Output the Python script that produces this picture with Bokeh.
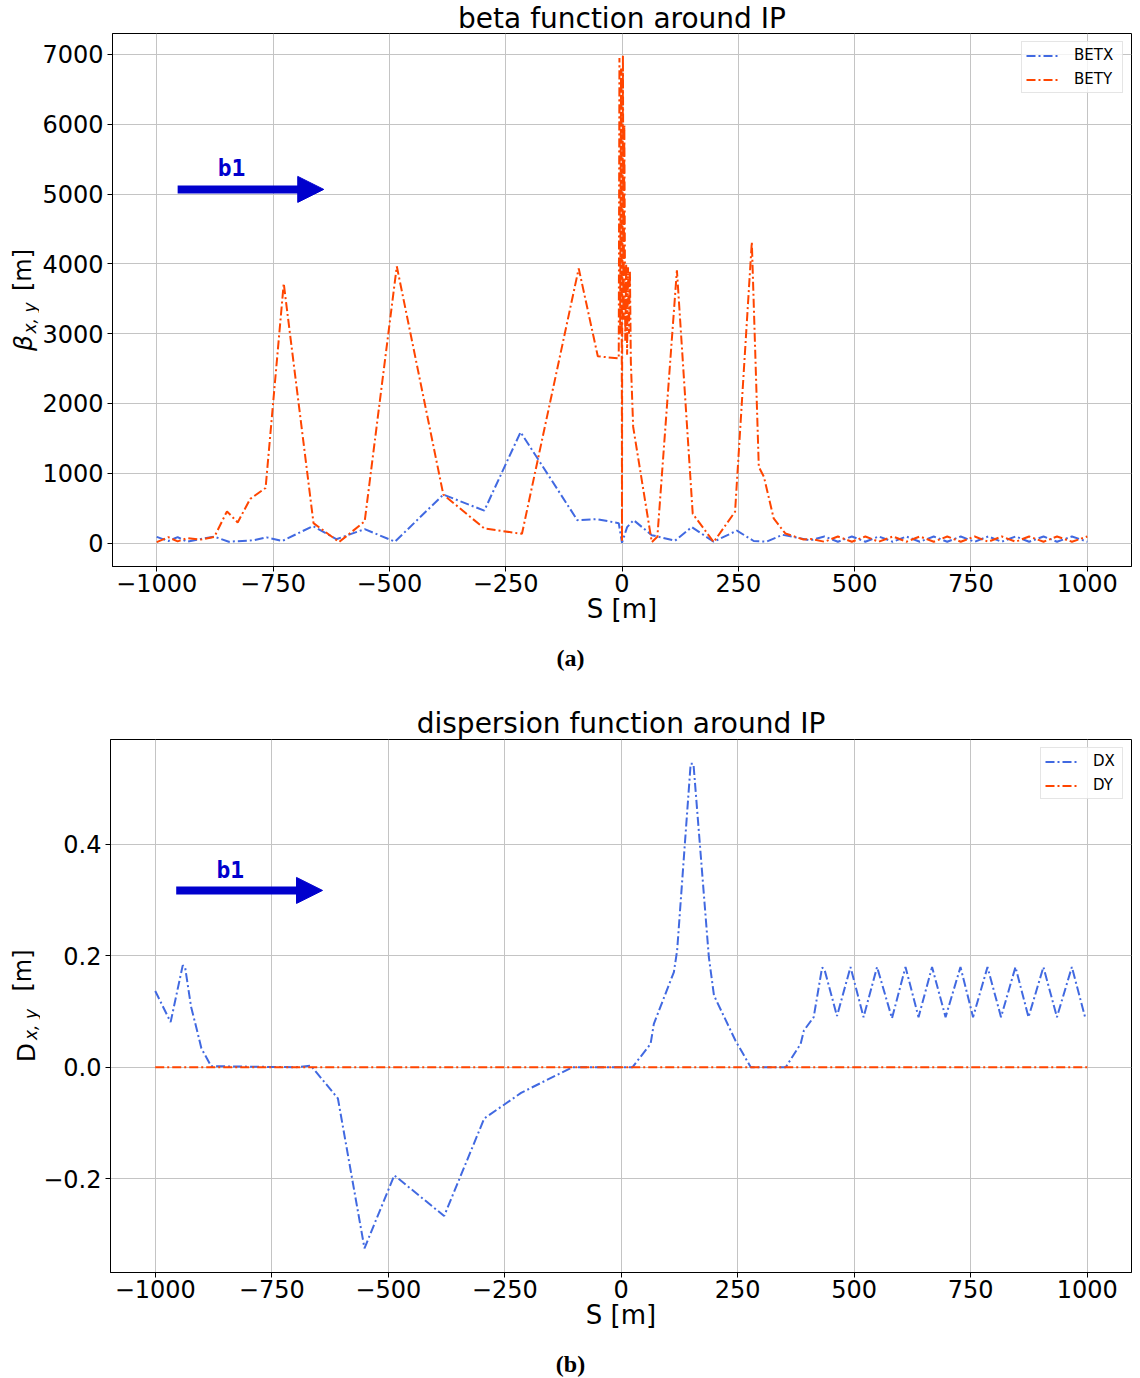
import numpy as np
from bokeh.plotting import figure
from bokeh.models import Range1d, FixedTicker, Label, Arrow, NormalHead
from bokeh.layouts import column, row
from bokeh.embed import file_html
from bokeh.resources import INLINE

# ---------------- data ----------------
betx_s = [-1000, -975, -955, -935, -905, -876, -845, -791, -764, -730, -664, -614, -553, -488, -384,
          -296, -218, -96, -54, -7, 0, 11, 25, 64, 114, 150, 197, 247, 283, 310, 345, 375,
          405, 435, 464, 494, 523, 552, 582, 611, 640, 670, 699, 728, 758, 787, 816, 846, 875,
          906, 935, 967, 1000]
betx = [90, 30, 85, 20, 60, 92, 20, 41, 82, 31, 245, 56, 200, 20, 695,
        465, 1590, 329, 343, 286, 5, 229, 329, 114, 35, 230, 20, 180, 30, 20, 119, 80,
        40, 95, 20, 95, 20, 95, 20, 95, 20, 95, 20, 95, 20, 95, 20, 95, 20,
        95, 20, 95, 20]

bety_s = [-1000, -975, -955, -935, -905, -876, -849, -826, -799, -766, -727, -663, -608, -553, -484,
          -384, -296, -215, -93, -52, -7, -5.5, -4, -2, -0.3, 0, 0.3, 2, 3.5, 5,
          7, 9, 11, 13, 15, 17, 19,
          24, 64, 76, 118, 152, 197, 243, 279, 294, 305, 326, 351, 390,
          405, 435, 464, 494, 523, 552, 582, 611, 640, 670, 699, 728, 758, 787, 816, 846, 875,
          906, 935, 967, 1000]
bety = [15, 85, 25, 70, 50, 90, 455, 296, 634, 790, 3720, 286, 15, 312, 3965,
        695, 210, 133, 3935, 2676, 2645, 6950, 3000, 6800, 2000, 20, 2600, 6990, 3200, 6000,
        2900, 4000, 2700, 3950, 3000, 3900, 2600,
        1665, 15, 90, 3908, 420, 15, 450, 4313, 1092, 950, 353, 138, 52,
        60, 20, 95, 20, 95, 20, 95, 20, 95, 20, 95, 20, 95, 20, 95, 20, 95, 20,
        95, 20, 95]

dx_s = [-1000, -967, -941, -936, -923, -912, -901, -880, -700, -666, -608, -551, -487, -380, -294,
        -215, -105, 24, 63, 70, 113, 120, 149, 155, 188, 199, 245, 278, 353, 385,
        392, 413, 431, 436, 463, 492, 520, 549, 581, 610, 638, 667, 696, 728, 755,
        786, 815, 846, 874, 906, 935, 967, 996]
dx = [0.137, 0.081, 0.183, 0.180, 0.108, 0.072, 0.034, 0.002, 0.0, 0.003, -0.056, -0.325, -0.194, -0.267, -0.092,
      -0.046, 0.0, 0.0, 0.042, 0.078, 0.171, 0.21, 0.545, 0.545, 0.198, 0.129, 0.048, 0.0, 0.0, 0.042,
      0.066, 0.09, 0.179, 0.176, 0.092, 0.18, 0.09, 0.18, 0.088, 0.18, 0.09, 0.18, 0.09, 0.18, 0.09,
      0.18, 0.09, 0.18, 0.09, 0.18, 0.09, 0.18, 0.088]

dy_s = [-1000, -500, 0, 500, 1000]
dy = [0.0, 0.0, 0.0, 0.0, 0.0]

x_ticks = [-1000, -750, -500, -250, 0, 250, 500, 750, 1000]
x_tick_labels = ["\u22121000", "\u2212750", "\u2212500", "\u2212250", "0", "250", "500", "750", "1000"]
beta_ticks = [0, 1000, 2000, 3000, 4000, 5000, 6000, 7000]
beta_tick_labels = ["0", "1000", "2000", "3000", "4000", "5000", "6000", "7000"]
disp_ticks = [-0.2, 0.0, 0.2, 0.4]
disp_tick_labels = ["\u22120.2", "0.0", "0.2", "0.4"]

BLUE = "#4169E1"
RED = "#FF4500"
ARROW = "#0000CD"
DASH = "9 3 2 3"
FONT = "DejaVu Sans"
FRAME_H = 533
BOTTOM = 70


def chart(ylw, border_left, top, title_standoff, legend_label_w, title, xr, yr, yticks, ylabels,
          series, arrow_y, b1_y):
    p = figure(width=1140 - ylw, height=top + FRAME_H + BOTTOM,
               x_range=Range1d(*xr), y_range=Range1d(*yr), title=title,
               output_backend="svg", toolbar_location=None,
               min_border_left=border_left, min_border_right=9, min_border_top=top,
               min_border_bottom=BOTTOM)
    p.title.align = "center"
    p.title.text_font = FONT
    p.title.text_font_size = "28px"
    p.title.text_font_style = "normal"
    p.title.text_color = "black"
    p.title.standoff = title_standoff
    p.title.offset = 0

    p.outline_line_color = "black"
    p.outline_line_width = 1
    p.outline_line_alpha = 1

    for s, v, c, name in series:
        p.line(s, v, color=c, line_width=2, line_dash=DASH, legend_label=name)

    p.xaxis.ticker = FixedTicker(ticks=x_ticks)
    p.xaxis.major_label_overrides = dict(zip(x_ticks, x_tick_labels))
    p.yaxis.ticker = FixedTicker(ticks=yticks)
    p.yaxis.major_label_overrides = dict(zip(yticks, ylabels))
    p.xgrid.ticker = FixedTicker(ticks=x_ticks)
    p.ygrid.ticker = FixedTicker(ticks=yticks)
    p.grid.grid_line_color = "#c4c4c4"
    p.grid.grid_line_width = 1

    for ax in (p.xaxis, p.yaxis):
        ax.axis_line_color = "black"
        ax.major_tick_line_color = "black"
        ax.major_tick_out = 5
        ax.major_tick_in = 0
        ax.minor_tick_out = 0
        ax.minor_tick_in = 0
        ax.major_label_text_font = FONT
        ax.major_label_text_font_size = "24px"
        ax.major_label_text_color = "black"
        ax.major_label_standoff = 4
    p.xaxis.major_label_standoff = 2
    p.xaxis.axis_label = "S [m]"
    p.xaxis.axis_label_text_font = FONT
    p.xaxis.axis_label_text_font_size = "26px"
    p.xaxis.axis_label_text_font_style = "normal"
    p.xaxis.axis_label_text_color = "black"
    p.xaxis.axis_label_standoff = -1

    lg = p.legend[0]
    lg.location = "top_right"
    lg.margin = 8
    lg.padding = 4
    lg.spacing = 6
    lg.glyph_width = 34
    lg.glyph_height = 17
    lg.label_height = 17
    lg.label_width = legend_label_w
    lg.label_standoff = 14
    lg.label_text_font = FONT
    lg.label_text_font_size = "15px"
    lg.label_text_color = "black"
    lg.border_line_color = "#cccccc"
    lg.border_line_width = 1
    lg.background_fill_alpha = 0.8

    # b1 arrow
    ax0, ax1 = -955, -641
    p.add_layout(Arrow(end=None, x_start=ax0, y_start=arrow_y, x_end=ax1 - 40, y_end=arrow_y,
                       line_width=8, line_color=ARROW))
    p.add_layout(Arrow(end=NormalHead(size=26, fill_color=ARROW, line_color=ARROW, line_width=1),
                       x_start=ax1 - 60, y_start=arrow_y, x_end=ax1, y_end=arrow_y,
                       line_width=1, line_alpha=0))
    p.add_layout(Label(x=-839, y=b1_y, text="b1", text_font="DejaVu Sans Mono",
                       text_font_style="bold", text_font_size="23px", text_color=ARROW,
                       text_align="center", text_baseline="alphabetic"))
    return p


def ylabel_fig(w, top, sym, style, frame_bottom, centers):
    # strip with the same vertical frame as its chart; coordinates = pixels above frame bottom
    f = figure(width=w, height=top + FRAME_H + BOTTOM, x_range=Range1d(0, w),
               y_range=Range1d(0, FRAME_H), output_backend="svg", toolbar_location=None,
               title=None, x_axis_type=None, y_axis_type=None,
               min_border_left=0, min_border_right=0, min_border_top=top,
               min_border_bottom=BOTTOM)
    f.outline_line_color = None
    parts = [(sym, style, "25px"), ("x, y", "italic", "17px"), ("[m]", "normal", "24px")]
    for (txt, st, fs), (cx, sy) in zip(parts, centers):
        f.add_layout(Label(x=cx, y=frame_bottom - sy, text=txt, angle=np.pi / 2, text_font=FONT,
                           text_font_style=st, text_font_size=fs, text_align="center",
                           text_baseline="middle", text_color="black"))
    return f


def caption_fig(h, text, center_from_bottom):
    f = figure(width=1140, height=h, x_range=Range1d(0, 1140), y_range=Range1d(0, h),
               output_backend="svg", toolbar_location=None, title=None,
               x_axis_type=None, y_axis_type=None, min_border=0)
    f.outline_line_color = None
    f.add_layout(Label(x=570, y=center_from_bottom, text=text, text_font="Liberation Serif",
                       text_font_style="bold", text_font_size="24px", text_align="center",
                       text_baseline="middle", text_color="black"))
    return f


# panel (a): chart 0..636 (frame 33..566), caption strip 636..690
p1 = chart(39, 73, 33, -3, 44, "beta function around IP", (-1095, 1095), (-335, 7300),
           beta_ticks, beta_tick_labels,
           [(betx_s, betx, BLUE, "BETX"), (bety_s, bety, RED, "BETY")], 5067, 5368)
y1 = ylabel_fig(39, 33, "\u03b2", "italic", 566,
                [(22.5, 342.5), (29, 317.5), (22.8, 269.5)])
c1 = caption_fig(54, "(a)", 690 - 657)

# panel (b): chart 690..1342 (frame 739..1272), caption strip 1342..1378
p2 = chart(40, 69, 49, 0, 25, "dispersion function around IP", (-1096, 1095), (-0.3685, 0.5885),
           disp_ticks, disp_tick_labels,
           [(dx_s, dx, BLUE, "DX"), (dy_s, dy, RED, "DY")], 0.3175, 0.355)
y2 = ylabel_fig(40, 49, "D", "normal", 1272,
                [(25.5, 1052), (30.5, 1024), (22.8, 970)])
c2 = caption_fig(36, "(b)", 1378 - 1363)

layout = column(row(y1, p1, spacing=0), c1, row(y2, p2, spacing=0), c2, spacing=0)
open("out.html", "w").write(file_html(layout, INLINE))
